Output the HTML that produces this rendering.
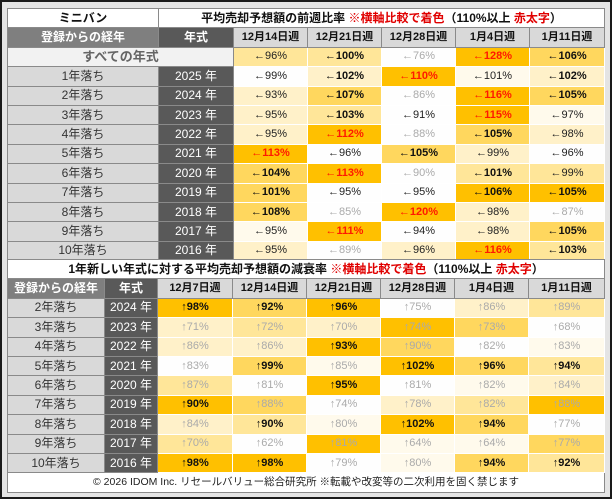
<!DOCTYPE html>
<html><head><meta charset="utf-8"><style>
*{margin:0;padding:0;box-sizing:border-box}
body{width:612px;height:499px;background:#fff;font-family:"Liberation Sans","Noto Sans CJK JP",sans-serif;overflow:hidden}
#frame{position:absolute;left:0;top:0;width:612px;height:499px;border:2px solid #1a1a1a;background:#e4e4e4}
table{position:absolute;left:7px;border-collapse:collapse;table-layout:fixed;width:597px}
tr{height:19.4px}
td{border:1px solid #8a8a8a;text-align:center;font-size:11px;height:19.4px;line-height:15px;padding:0;white-space:nowrap;overflow:hidden}
.t{background:#fff;font-weight:bold;font-size:12px;color:#111}
.r{color:#e00000}
.hl{background:#7f7f7f;color:#fff;font-weight:bold;font-size:12px}
.hy{background:#595959;color:#fff;font-weight:bold;font-size:12px}
.hw{background:#d9d9d9;color:#111;font-weight:bold;font-size:11px}
.lb{background:#d9d9d9;color:#333;font-size:12px}
.yr{background:#595959;color:#fff;font-size:12px}
.all{background:#f2f2f2;color:#666;font-size:13px;font-weight:bold}
td.d{border:1px solid #fff}
.c0{background:#fefefe}.c1{background:#fffaec}.c2{background:#fff1c9}.c3{background:#ffe699}.c4{background:#ffd75e}.c5{background:#ffc000}
.b{font-weight:bold;color:#111}.n{color:#222}.g{color:#aaa}.rr{color:#ff1a00;font-weight:bold}
.foot{background:#fff;font-size:10.5px;color:#222}
</style></head><body><div id="frame"></div>
<table style="top:8px">
<colgroup><col style="width:151px"><col style="width:75px"><col style="width:74px"><col style="width:74px"><col style="width:74px"><col style="width:74px"><col style="width:75px"></colgroup>
<tr><td class="t">ミニバン</td><td class="t" colspan="6">平均売却予想額の前週比率 <span class="r">※横軸比較で着色</span>（110%以上 <span class="r">赤太字</span>）</td></tr>
<tr><td class="hl">登録からの経年</td><td class="hy">年式</td><td class="hw">12月14日週</td><td class="hw">12月21日週</td><td class="hw">12月28日週</td><td class="hw">1月4日週</td><td class="hw">1月11日週</td></tr>
<tr><td class="all" colspan="2">すべての年式</td><td class="d c3 n">←96%</td><td class="d c3 b">←100%</td><td class="d c0 g">←76%</td><td class="d c5 rr">←128%</td><td class="d c4 b">←106%</td></tr>
<tr><td class="lb">1年落ち</td><td class="yr">2025 年</td><td class="d c0 n">←99%</td><td class="d c2 b">←102%</td><td class="d c5 rr">←110%</td><td class="d c1 n">←101%</td><td class="d c2 b">←102%</td></tr>
<tr><td class="lb">2年落ち</td><td class="yr">2024 年</td><td class="d c2 n">←93%</td><td class="d c4 b">←107%</td><td class="d c0 g">←86%</td><td class="d c5 rr">←116%</td><td class="d c4 b">←105%</td></tr>
<tr><td class="lb">3年落ち</td><td class="yr">2023 年</td><td class="d c2 n">←95%</td><td class="d c3 b">←103%</td><td class="d c0 n">←91%</td><td class="d c5 rr">←115%</td><td class="d c1 n">←97%</td></tr>
<tr><td class="lb">4年落ち</td><td class="yr">2022 年</td><td class="d c2 n">←95%</td><td class="d c5 rr">←112%</td><td class="d c0 g">←88%</td><td class="d c4 b">←105%</td><td class="d c2 n">←98%</td></tr>
<tr><td class="lb">5年落ち</td><td class="yr">2021 年</td><td class="d c5 rr">←113%</td><td class="d c0 n">←96%</td><td class="d c4 b">←105%</td><td class="d c2 n">←99%</td><td class="d c0 n">←96%</td></tr>
<tr><td class="lb">6年落ち</td><td class="yr">2020 年</td><td class="d c4 b">←104%</td><td class="d c5 rr">←113%</td><td class="d c0 g">←90%</td><td class="d c3 b">←101%</td><td class="d c3 n">←99%</td></tr>
<tr><td class="lb">7年落ち</td><td class="yr">2019 年</td><td class="d c4 b">←101%</td><td class="d c0 n">←95%</td><td class="d c0 n">←95%</td><td class="d c5 b">←106%</td><td class="d c5 b">←105%</td></tr>
<tr><td class="lb">8年落ち</td><td class="yr">2018 年</td><td class="d c4 b">←108%</td><td class="d c0 g">←85%</td><td class="d c5 rr">←120%</td><td class="d c2 n">←98%</td><td class="d c0 g">←87%</td></tr>
<tr><td class="lb">9年落ち</td><td class="yr">2017 年</td><td class="d c1 n">←95%</td><td class="d c5 rr">←111%</td><td class="d c0 n">←94%</td><td class="d c2 n">←98%</td><td class="d c4 b">←105%</td></tr>
<tr><td class="lb">10年落ち</td><td class="yr">2016 年</td><td class="d c2 n">←95%</td><td class="d c0 g">←89%</td><td class="d c2 n">←96%</td><td class="d c5 rr">←116%</td><td class="d c3 b">←103%</td></tr>
</table>
<table style="top:259px">
<colgroup><col style="width:97px"><col style="width:53px"><col style="width:75px"><col style="width:74px"><col style="width:74px"><col style="width:74px"><col style="width:74px"><col style="width:76px"></colgroup>
<tr><td class="t" colspan="8">1年新しい年式に対する平均売却予想額の減衰率 <span class="r">※横軸比較で着色</span>（110%以上 <span class="r">赤太字</span>）</td></tr>
<tr><td class="hl">登録からの経年</td><td class="hy">年式</td><td class="hw">12月7日週</td><td class="hw">12月14日週</td><td class="hw">12月21日週</td><td class="hw">12月28日週</td><td class="hw">1月4日週</td><td class="hw">1月11日週</td></tr>
<tr><td class="lb">2年落ち</td><td class="yr">2024 年</td><td class="d c5 b">↑98%</td><td class="d c4 b">↑92%</td><td class="d c5 b">↑96%</td><td class="d c0 g">↑75%</td><td class="d c2 g">↑86%</td><td class="d c3 g">↑89%</td></tr>
<tr><td class="lb">3年落ち</td><td class="yr">2023 年</td><td class="d c2 g">↑71%</td><td class="d c3 g">↑72%</td><td class="d c2 g">↑70%</td><td class="d c5 g">↑74%</td><td class="d c4 g">↑73%</td><td class="d c0 g">↑68%</td></tr>
<tr><td class="lb">4年落ち</td><td class="yr">2022 年</td><td class="d c2 g">↑86%</td><td class="d c2 g">↑86%</td><td class="d c5 b">↑93%</td><td class="d c4 g">↑90%</td><td class="d c0 g">↑82%</td><td class="d c1 g">↑83%</td></tr>
<tr><td class="lb">5年落ち</td><td class="yr">2021 年</td><td class="d c0 g">↑83%</td><td class="d c4 b">↑99%</td><td class="d c1 g">↑85%</td><td class="d c5 b">↑102%</td><td class="d c4 b">↑96%</td><td class="d c3 b">↑94%</td></tr>
<tr><td class="lb">6年落ち</td><td class="yr">2020 年</td><td class="d c3 g">↑87%</td><td class="d c0 g">↑81%</td><td class="d c5 b">↑95%</td><td class="d c0 g">↑81%</td><td class="d c1 g">↑82%</td><td class="d c2 g">↑84%</td></tr>
<tr><td class="lb">7年落ち</td><td class="yr">2019 年</td><td class="d c5 b">↑90%</td><td class="d c4 g">↑88%</td><td class="d c0 g">↑74%</td><td class="d c2 g">↑78%</td><td class="d c3 g">↑82%</td><td class="d c5 g">↑88%</td></tr>
<tr><td class="lb">8年落ち</td><td class="yr">2018 年</td><td class="d c2 g">↑84%</td><td class="d c3 b">↑90%</td><td class="d c1 g">↑80%</td><td class="d c5 b">↑102%</td><td class="d c4 b">↑94%</td><td class="d c0 g">↑77%</td></tr>
<tr><td class="lb">9年落ち</td><td class="yr">2017 年</td><td class="d c3 g">↑70%</td><td class="d c0 g">↑62%</td><td class="d c5 g">↑81%</td><td class="d c1 g">↑64%</td><td class="d c1 g">↑64%</td><td class="d c4 g">↑77%</td></tr>
<tr><td class="lb">10年落ち</td><td class="yr">2016 年</td><td class="d c5 b">↑98%</td><td class="d c5 b">↑98%</td><td class="d c0 g">↑79%</td><td class="d c1 g">↑80%</td><td class="d c4 b">↑94%</td><td class="d c3 b">↑92%</td></tr>
<tr><td class="foot" colspan="8">© 2026 IDOM Inc. リセールバリュー総合研究所 ※転載や改変等の二次利用を固く禁じます</td></tr>
</table>
</body></html>
